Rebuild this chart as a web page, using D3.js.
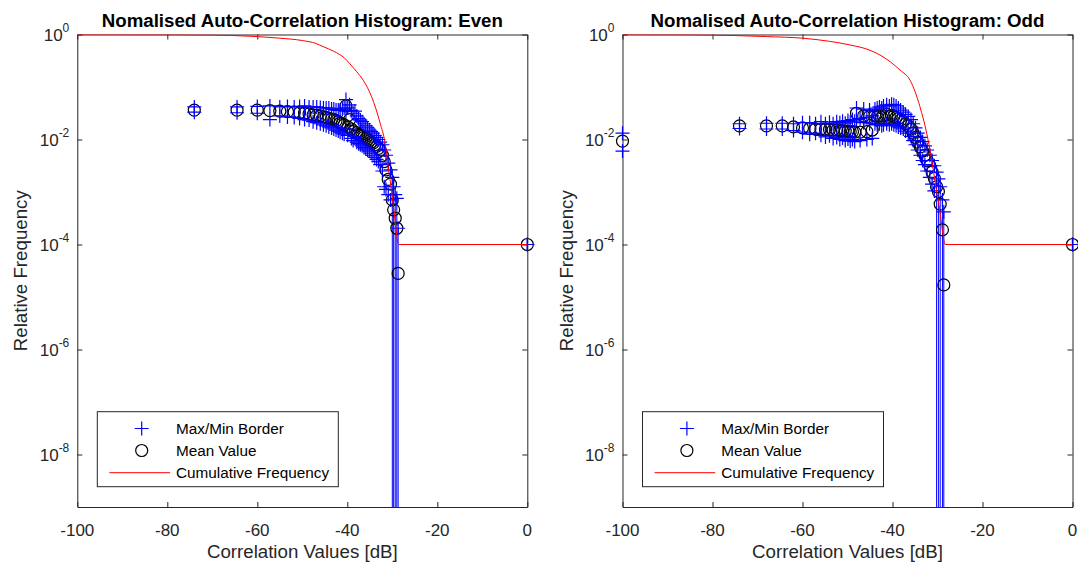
<!DOCTYPE html>
<html><head><meta charset="utf-8">
<script src="https://cdn.jsdelivr.net/npm/d3@7/dist/d3.min.js"></script>
<style>body{margin:0;background:#fff;} svg{display:block;font-family:"Liberation Sans",Arial,sans-serif;}</style>
</head><body><svg id="c" width="1078" height="564"></svg>
<script>
// ---------- data (frequencies as log10 exponents) ----------
const xTicks = [-100, -80, -60, -40, -20, 0];
const yTickExps = [0, -2, -4, -6, -8];
const legendLabels = ["Max/Min Border", "Mean Value", "Cumulative Frequency"];
const titles = ["Nomalised Auto-Correlation Histogram: Even", "Nomalised Auto-Correlation Histogram: Odd"];
const xLabel = "Correlation Values [dB]";
const yLabel = "Relative Frequency";

const evenX = [-74.0,-64.5,-60.0,-57.2,-55.0,-53.3,-51.8,-50.6,-49.5,-48.5,-47.6,-46.8,-46.0,-45.3,-44.7,-44.1,-43.5,-43.0,-42.5,-42.0,-41.6,-41.1,-40.7,-40.3,-39.9,-39.5,-39.1,-38.7,-38.3,-37.9,-37.5,-37.1,-36.7,-36.3,-35.9,-35.5,-35.1,-34.7,-34.3,-33.9,-33.5,-33.1,-32.7,-32.2,-31.8,-31.4,-30.9,-30.4,-30.0,-29.7,-29.35,-29.0,-28.7,0];
const evenMeanLog = [-1.44,-1.44,-1.44,-1.45,-1.46,-1.47,-1.48,-1.49,-1.50,-1.51,-1.53,-1.54,-1.55,-1.57,-1.58,-1.60,-1.61,-1.62,-1.64,-1.66,-1.69,-1.70,-1.72,-1.36,-1.76,-1.62,-1.80,-1.85,-1.72,-1.87,-1.90,-1.92,-1.94,-1.96,-1.98,-2.00,-2.02,-2.05,-2.07,-2.10,-2.13,-2.17,-2.20,-2.30,-2.42,-2.58,-2.76,-2.85,-3.15,-3.34,-3.50,-3.69,-4.55,-4.0];
const evenMaxLog = [-1.38,-1.38,-1.37,-1.36,-1.38,-1.37,-1.38,-1.37,-1.36,-1.38,-1.38,-1.38,-1.39,-1.40,-1.40,-1.40,-1.42,-1.42,-1.44,-1.44,-1.44,-1.42,-1.40,-1.24,-1.40,-1.34,-1.45,-1.50,-1.46,-1.55,-1.60,-1.63,-1.66,-1.70,-1.74,-1.78,-1.82,-1.85,-1.88,-1.92,-1.96,-2.00,-2.05,-2.10,-2.20,-2.30,-2.45,-2.58,-2.72,-2.90,-3.05,-3.12,-3.69,-4.0];
const evenMinLog = [-1.48,-1.49,-1.50,-1.62,-1.55,-1.57,-1.58,-1.60,-1.62,-1.63,-1.66,-1.68,-1.70,-1.72,-1.74,-1.76,-1.78,-1.80,-1.82,-1.84,-1.86,-1.88,-1.90,-1.46,-1.92,-1.80,-1.98,-2.02,-1.94,-2.05,-2.08,-2.10,-2.12,-2.15,-2.18,-2.20,-2.22,-2.26,-2.30,-2.34,-2.38,-2.42,-2.48,-2.60,-2.90,-2.95,-3.05,-3.15,null,null,null,null,null,-4.0];
const evenCumX = [-100,-80,-70,-61.4,-55,-50,-47,-45.4,-43,-40.6,-39.4,-38,-36.4,-34.6,-32.7,-31.6,-30.9,-30.1,-29.4,-28.7,-28.5,0];
const evenCumLog = [0,-0.003,-0.01,-0.034,-0.07,-0.115,-0.17,-0.23,-0.32,-0.45,-0.56,-0.70,-0.88,-1.185,-1.69,-2.07,-2.52,-3.02,-3.53,-3.98,-4.0,-4.0];

const oddX = [-100,-74.0,-68.0,-64.5,-62.0,-60.0,-58.4,-57.1,-55.9,-54.9,-54.0,-53.2,-52.4,-51.7,-51.1,-50.5,-49.9,-49.4,-48.9,-48.4,-48.0,-47.2,-46.4,-45.7,-45.1,-44.5,-43.9,-43.4,-42.9,-42.4,-42.0,-41.3,-40.7,-40.2,-39.7,-39.2,-38.7,-38.2,-37.6,-37.1,-36.5,-35.9,-35.4,-34.9,-34.4,-33.8,-33.3,-32.8,-32.3,-31.7,-31.2,-30.7,-30.2,-29.8,-29.4,-28.9,-28.6,0];
const oddMeanLog = [-2.03,-1.74,-1.74,-1.74,-1.76,-1.78,-1.79,-1.80,-1.80,-1.81,-1.81,-1.82,-1.82,-1.83,-1.83,-1.84,-1.84,-1.85,-1.85,-1.86,-1.50,-1.86,-1.55,-1.85,-1.56,-1.82,-1.55,-1.57,-1.55,-1.58,-1.55,-1.52,-1.56,-1.54,-1.56,-1.58,-1.60,-1.63,-1.66,-1.70,-1.74,-1.80,-1.88,-1.96,-2.05,-2.14,-2.22,-2.30,-2.40,-2.50,-2.62,-2.74,-2.90,-2.99,-3.23,-3.72,-4.77,-4.0];
const oddMaxLog = [-1.88,-1.70,-1.69,-1.69,-1.70,-1.68,-1.68,-1.70,-1.66,-1.70,-1.67,-1.70,-1.66,-1.68,-1.65,-1.69,-1.64,-1.67,-1.62,-1.65,-1.40,-1.60,-1.42,-1.58,-1.44,-1.55,-1.42,-1.40,-1.38,-1.40,-1.36,-1.34,-1.36,-1.33,-1.34,-1.36,-1.40,-1.44,-1.48,-1.52,-1.56,-1.62,-1.70,-1.78,-1.88,-1.96,-2.04,-2.12,-2.20,-2.30,-2.40,-2.50,-2.62,-2.75,-2.90,-3.15,-3.38,-4.0];
const oddMinLog = [-2.22,-1.79,-1.80,-1.80,-1.83,-1.86,-1.90,-1.88,-1.92,-1.95,-1.93,-1.98,-1.96,-2.00,-1.97,-2.02,-1.99,-2.03,-2.00,-2.04,-1.62,-2.02,-1.68,-2.00,-1.70,-1.98,-1.70,-1.72,-1.70,-1.74,-1.72,-1.70,-1.72,-1.70,-1.72,-1.74,-1.76,-1.78,-1.80,-1.84,-1.88,-1.94,-2.02,-2.10,-2.20,-2.30,-2.40,-2.48,-2.60,-2.72,-2.85,-2.98,null,null,null,null,null,-4.0];
const oddCumX = [-100,-85,-75,-68,-60,-54,-49.4,-45,-42.8,-40.5,-38.3,-36.1,-33.9,-32.4,-31.4,-30.6,-29.4,-28.7,-28.3,0];
const oddCumLog = [0,-0.005,-0.02,-0.04,-0.07,-0.13,-0.2,-0.3,-0.39,-0.52,-0.68,-0.87,-1.375,-1.88,-2.33,-2.77,-3.41,-3.85,-4.0,-4.0];

// ---------- drawing ----------
const svg = d3.select("#c");
const AX = "#262626";
const Y0 = 34.5, Y1 = 507;
const FS = 17;          // axes font size
const FL = 18.7;        // title / label font size
const FG = 15.3;        // legend font size

const panels = [
  {x0: 77.3, x1: 527.3, title: titles[0], xs: evenX, mean: evenMeanLog, max: evenMaxLog, min: evenMinLog, cx: evenCumX, cy: evenCumLog, id: "a"},
  {x0: 622.5, x1: 1072.5, title: titles[1], xs: oddX, mean: oddMeanLog, max: oddMaxLog, min: oddMinLog, cx: oddCumX, cy: oddCumLog, id: "b"}
];

panels.forEach(p => {
  const x = d3.scaleLinear().domain([-100, 0]).range([p.x0, p.x1]);
  const y = d3.scaleLog().domain([1e-9, 1]).range([Y1, Y0]);
  const g = svg.append("g");
  const pts = p.xs.map((v, i) => ({x: v, mean: 10 ** p.mean[i], max: 10 ** p.max[i], min: p.min[i] === null ? null : 10 ** p.min[i]}));

  svg.append("clipPath").attr("id", "clip" + p.id).append("rect")
    .attr("x", p.x0).attr("y", Y0).attr("width", p.x1 - p.x0).attr("height", Y1 - Y0);

  // axes with inward ticks on all four sides
  const tv = yTickExps.map(e => 10 ** e);
  const mk = (a) => a.tickSizeInner(-5).tickSizeOuter(0).tickFormat("");
  g.append("g").attr("transform", `translate(0,${Y1})`).call(mk(d3.axisBottom(x).tickValues(xTicks)));
  g.append("g").attr("transform", `translate(0,${Y0})`).call(mk(d3.axisTop(x).tickValues(xTicks)));
  g.append("g").attr("transform", `translate(${p.x0},0)`).call(mk(d3.axisLeft(y).tickValues(tv)));
  g.append("g").attr("transform", `translate(${p.x1},0)`).call(mk(d3.axisRight(y).tickValues(tv)));
  g.selectAll(".domain, .tick line").attr("stroke", AX).attr("stroke-width", 1);

  // tick labels
  g.selectAll(".xl").data(xTicks).enter().append("text")
    .attr("x", d => x(d)).attr("y", Y1 + 28.5).attr("text-anchor", "middle")
    .attr("font-size", FS).attr("fill", AX).text(d => d);
  yTickExps.forEach(e => {
    const t = g.append("text").attr("x", p.x0 - 8).attr("y", y(10 ** e) + 6)
      .attr("text-anchor", "end").attr("fill", AX).attr("font-size", FS);
    t.append("tspan").text("10");
    t.append("tspan").attr("font-size", 12).attr("dy", -9).text(e);
  });

  // axis labels & title
  const cxm = (p.x0 + p.x1) / 2;
  g.append("text").attr("x", cxm).attr("y", 558).attr("text-anchor", "middle")
    .attr("font-size", FL).attr("fill", AX).text(xLabel);
  g.append("text").attr("transform", `translate(${p.x0 - 50},${(Y0 + Y1) / 2}) rotate(-90)`)
    .attr("text-anchor", "middle").attr("font-size", FL).attr("fill", AX).text(yLabel);
  g.append("text").attr("x", cxm).attr("y", 26.5).attr("text-anchor", "middle")
    .attr("font-size", FL).attr("font-weight", "bold").attr("fill", "#000").text(p.title);

  // vertical lines for bins whose min reaches zero
  const data = g.append("g");
  data.append("g").attr("clip-path", `url(#clip${p.id})`).selectAll("line")
    .data(pts.filter(d => d.min === null)).enter().append("line")
    .attr("x1", d => x(d.x)).attr("x2", d => x(d.x))
    .attr("y1", d => y(d.max)).attr("y2", Y1)
    .attr("stroke", "#0000ff").attr("stroke-width", 1);

  // mean circles
  data.selectAll("circle").data(pts).enter().append("circle")
    .attr("cx", d => x(d.x)).attr("cy", d => y(d.mean)).attr("r", 6)
    .attr("fill", "none").attr("stroke", "#000").attr("stroke-width", 1.2);

  // max/min plus markers
  const plus = "M-7,0H7M0,-7V7";
  const pm = [];
  pts.forEach(d => { pm.push({x: d.x, v: d.max}); if (d.min !== null) pm.push({x: d.x, v: d.min}); });
  data.selectAll("path.pl").data(pm).enter().append("path").attr("class", "pl")
    .attr("d", plus).attr("transform", d => `translate(${x(d.x)},${y(d.v)})`)
    .attr("stroke", "#0000ff").attr("stroke-width", 1.2).attr("fill", "none");

  // cumulative frequency line
  const cum = p.cx.map((v, i) => [v, 10 ** p.cy[i]]);
  data.append("path").datum(cum).attr("clip-path", `url(#clip${p.id})`)
    .attr("d", d3.line().x(d => x(d[0])).y(d => y(d[1])).curve(d3.curveMonotoneX))
    .attr("fill", "none").attr("stroke", "#ff0000").attr("stroke-width", 1);

  // legend
  const lx = p.x0 + 20, ly = 411.7;
  const lg = g.append("g");
  lg.append("rect").attr("x", lx).attr("y", ly).attr("width", 241).attr("height", 75)
    .attr("fill", "#fff").attr("stroke", AX).attr("stroke-width", 1);
  const rows = [428.5, 450.5, 472.7];
  lg.append("path").attr("d", plus).attr("transform", `translate(${p.x0 + 64.4},${rows[0]})`)
    .attr("stroke", "#0000ff").attr("stroke-width", 1.2);
  lg.append("circle").attr("cx", p.x0 + 64.4).attr("cy", rows[1]).attr("r", 6)
    .attr("fill", "none").attr("stroke", "#000").attr("stroke-width", 1.2);
  lg.append("line").attr("x1", p.x0 + 32).attr("x2", p.x0 + 92.7).attr("y1", rows[2]).attr("y2", rows[2])
    .attr("stroke", "#ff0000").attr("stroke-width", 1);
  legendLabels.forEach((t, i) => {
    lg.append("text").attr("x", p.x0 + 98.7).attr("y", rows[i] + 5.5).attr("font-size", FG)
      .attr("fill", "#000").text(t);
  });
});
</script></body></html>
